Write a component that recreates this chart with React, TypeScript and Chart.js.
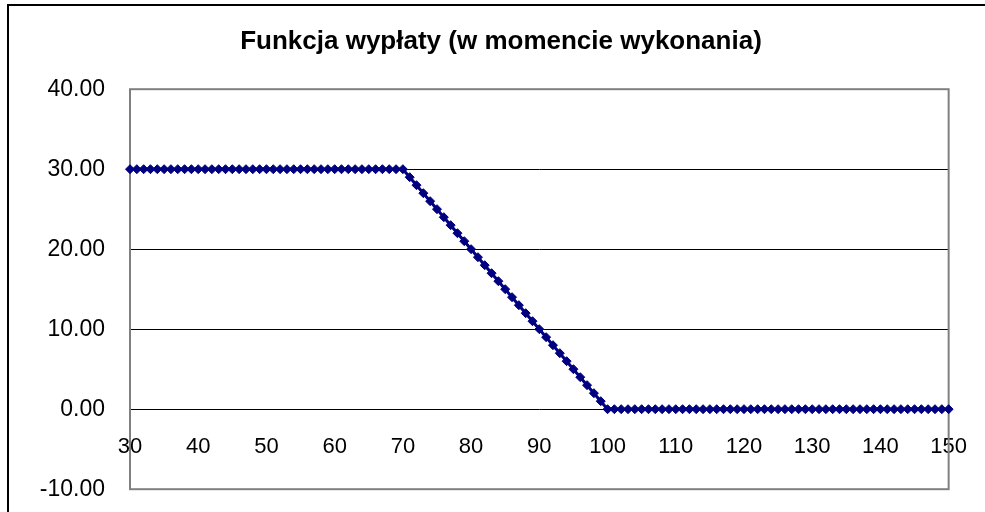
import React, { useEffect, useRef } from "react";
import { Chart, registerables } from "chart.js";

Chart.register(...registerables);

const titleText = "Funkcja wypłaty (w momencie wykonania)";

// Underlying price at expiry (x)
const prices = [
  30, 31, 32, 33, 34, 35, 36, 37, 38, 39,
  40, 41, 42, 43, 44, 45, 46, 47, 48, 49,
  50, 51, 52, 53, 54, 55, 56, 57, 58, 59,
  60, 61, 62, 63, 64, 65, 66, 67, 68, 69,
  70, 71, 72, 73, 74, 75, 76, 77, 78, 79,
  80, 81, 82, 83, 84, 85, 86, 87, 88, 89,
  90, 91, 92, 93, 94, 95, 96, 97, 98, 99,
  100, 101, 102, 103, 104, 105, 106, 107, 108, 109,
  110, 111, 112, 113, 114, 115, 116, 117, 118, 119,
  120, 121, 122, 123, 124, 125, 126, 127, 128, 129,
  130, 131, 132, 133, 134, 135, 136, 137, 138, 139,
  140, 141, 142, 143, 144, 145, 146, 147, 148, 149,
  150,
];

// Payoff at expiry (y)
const payoffs = [
  30, 30, 30, 30, 30, 30, 30, 30, 30, 30,
  30, 30, 30, 30, 30, 30, 30, 30, 30, 30,
  30, 30, 30, 30, 30, 30, 30, 30, 30, 30,
  30, 30, 30, 30, 30, 30, 30, 30, 30, 30,
  30, 29, 28, 27, 26, 25, 24, 23, 22, 21,
  20, 19, 18, 17, 16, 15, 14, 13, 12, 11,
  10, 9, 8, 7, 6, 5, 4, 3, 2, 1,
  0, 0, 0, 0, 0, 0, 0, 0, 0, 0,
  0, 0, 0, 0, 0, 0, 0, 0, 0, 0,
  0, 0, 0, 0, 0, 0, 0, 0, 0, 0,
  0, 0, 0, 0, 0, 0, 0, 0, 0, 0,
  0, 0, 0, 0, 0, 0, 0, 0, 0, 0,
  0,
];

const xTicks = [30, 40, 50, 60, 70, 80, 90, 100, 110, 120, 130, 140, 150];
const yTicks = [-10, 0, 10, 20, 30, 40];

const plotBorder = {
  id: "plotBorder",
  beforeDatasetsDraw(chart: any) {
    const { ctx, chartArea } = chart;
    ctx.save();
    ctx.strokeStyle = "#808080";
    ctx.lineWidth = 2;
    ctx.strokeRect(
      chartArea.left,
      chartArea.top,
      chartArea.right - chartArea.left,
      chartArea.bottom - chartArea.top
    );
    ctx.restore();
  },
};

export default function App() {
  const canvasRef = useRef<HTMLCanvasElement | null>(null);

  useEffect(() => {
    if (!canvasRef.current) return;
    Chart.defaults.font.family = "'Liberation Sans', Arial, sans-serif";
    Chart.defaults.color = "#000000";
    const data = prices.map((p, i) => ({ x: p, y: payoffs[i] }));
    const chart = new Chart(canvasRef.current, {
      type: "line",
      data: {
        datasets: [
          {
            data,
            borderColor: "#000080",
            backgroundColor: "#000080",
            borderWidth: 3,
            pointStyle: "rectRot",
            pointRadius: 4.5,
            pointBackgroundColor: "#000080",
            pointBorderColor: "#000080",
            pointBorderWidth: 1,
            clip: false as any,
            tension: 0,
          },
        ],
      },
      options: {
        animation: false,
        responsive: false,
        maintainAspectRatio: false,
        layout: { padding: { left: 36, right: 26, top: 0, bottom: 0 } },
        plugins: {
          legend: { display: false },
          tooltip: { enabled: false },
          title: {
            display: true,
            text: titleText,
            color: "#000000",
            font: { size: 26, weight: "bold" },
            padding: { top: 26, bottom: 32 },
          },
        },
        scales: {
          x: {
            type: "linear",
            position: { y: 0 } as any,
            min: xTicks[0],
            max: xTicks[xTicks.length - 1],
            afterBuildTicks: (scale: any) => {
              scale.ticks = xTicks.map((v) => ({ value: v }));
            },
            afterFit: (scale: any) => {
              scale.height = 0;
            },
            grid: { display: false, drawTicks: false },
            border: { display: false },
            ticks: {
              autoSkip: false,
              maxRotation: 0,
              padding: 25,
              font: { size: 22 },
              color: "#000000",
              callback: (v: any) => String(v),
            },
          },
          y: {
            type: "linear",
            min: yTicks[0],
            max: yTicks[yTicks.length - 1],
            afterBuildTicks: (scale: any) => {
              scale.ticks = yTicks.map((v) => ({ value: v }));
            },
            afterFit: (scale: any) => {
              scale.width = 94;
            },
            grid: {
              drawTicks: false,
              color: (c: any) =>
                c.tick && (c.tick.value === 40 || c.tick.value === -10)
                  ? "rgba(0,0,0,0)"
                  : "#000000",
              lineWidth: 1,
            },
            border: { display: false },
            ticks: {
              padding: 25,
              font: { size: 23 },
              color: "#000000",
              callback: (v: any) => Number(v).toFixed(2),
            },
          },
        },
      },
      plugins: [plotBorder],
    });
    return () => chart.destroy();
  }, []);

  return (
    <>
      <div
        style={{
          position: "fixed",
          left: 0,
          top: 0,
          width: 985,
          height: 512,
          overflow: "hidden",
          background: "#ffffff",
        }}
      >
        <canvas ref={canvasRef} width={992} height={528} style={{ display: "block" }} />
      </div>
      <div
        style={{
          position: "fixed",
          left: 7,
          top: 4,
          width: 1000,
          height: 600,
          border: "2px solid #000000",
          pointerEvents: "none",
        }}
      />
    </>
  );
}
